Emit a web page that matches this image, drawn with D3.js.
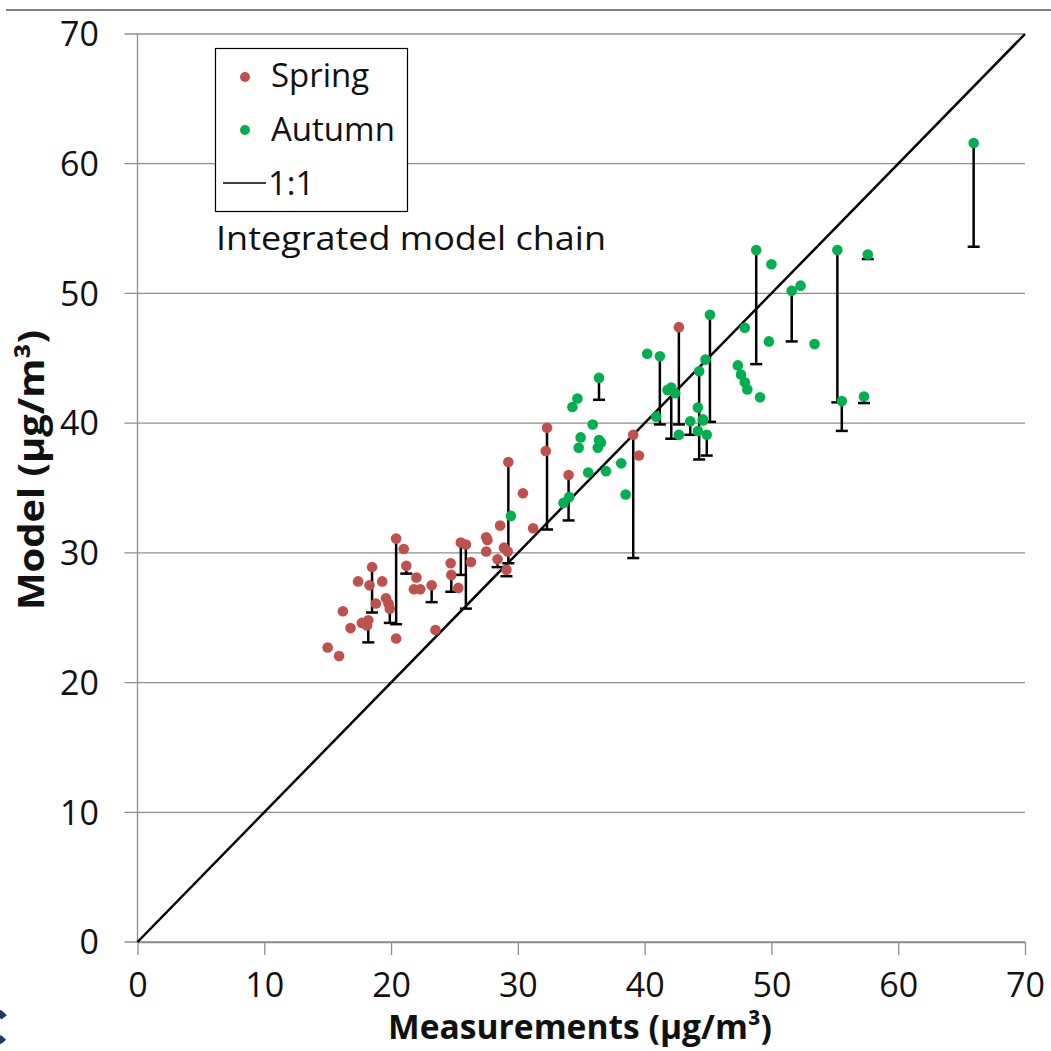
<!DOCTYPE html>
<html>
<head>
<meta charset="utf-8">
<script src="https://cdn.jsdelivr.net/npm/d3@7"></script>
<style>
  html, body { margin: 0; padding: 0; background: #fff; }
  svg { display: block; }
</style>
</head>
<body>
<div id="chart"></div>
<script>
// Scatter: model vs measurements, spring / autumn, with error bars

const ticks = [0, 10, 20, 30, 40, 50, 60, 70];

// Spring: measurement, model, lower end of error bar (null = none)
const springMeas  = [15.0, 15.9, 16.2, 16.8, 17.4, 17.7, 18.2, 18.1, 18.3, 18.5, 18.8, 19.3, 19.6, 19.8, 19.9, 20.4, 20.4, 21.0, 21.2, 21.8, 22.0, 22.3, 23.2, 23.5, 24.7, 24.75, 25.3, 25.5, 25.9, 26.3, 27.5, 27.6, 27.5, 28.4, 28.6, 28.9, 29.2, 29.1, 29.25, 30.4, 31.2, 32.3, 32.2, 34.0, 39.1, 39.55, 42.7];
const springModel = [22.7, 22.05, 25.5, 24.2, 27.8, 24.6, 24.8, 24.4, 27.5, 28.9, 26.1, 27.8, 26.5, 26.1, 25.7, 31.1, 23.4, 30.3, 29.0, 27.2, 28.1, 27.2, 27.5, 24.05, 29.2, 28.3, 27.3, 30.8, 30.65, 29.3, 31.2, 31.0, 30.1, 29.5, 32.1, 30.4, 30.1, 28.7, 37.0, 34.6, 31.9, 39.65, 37.85, 36.0, 39.1, 37.5, 47.4];
const springLow   = [null, null, null, null, null, null, 23.1, null, null, 25.4, null, null, null, null, 24.6, 24.5, null, null, 28.4, null, null, null, 26.2, null, null, 27.0, null, 28.3, 25.7, null, null, null, null, 28.9, null, null, null, 28.2, 29.2, null, null, 31.8, null, 32.5, 29.6, null, 39.9];

// Autumn
const autumnMeas  = [29.45, 33.6, 34.05, 34.3, 34.7, 34.8, 34.95, 35.55, 35.9, 36.3, 36.4, 36.55, 36.4, 36.95, 38.15, 38.5, 40.2, 40.9, 41.2, 41.8, 42.1, 42.4, 42.7, 43.6, 44.2, 44.2, 44.3, 44.6, 44.6, 44.8, 44.9, 45.15, 47.35, 47.6, 47.9, 47.9, 48.1, 48.8, 49.1, 49.8, 50.0, 51.6, 52.3, 53.4, 55.2, 55.55, 57.3, 57.6, 65.95];
const autumnModel = [32.85, 33.85, 34.3, 41.25, 41.9, 38.1, 38.9, 36.2, 39.9, 38.1, 38.7, 38.5, 43.5, 36.3, 36.9, 34.5, 45.35, 40.5, 45.15, 42.55, 42.75, 42.3, 39.1, 40.15, 41.2, 39.4, 44.0, 40.2, 40.3, 44.9, 39.1, 48.35, 44.45, 43.75, 47.35, 43.15, 42.6, 53.35, 42.0, 46.3, 52.25, 50.2, 50.6, 46.1, 53.35, 41.7, 42.05, 53.0, 61.6];
const autumnLow   = [null, null, null, null, null, null, null, null, null, null, null, null, 41.8, null, null, null, null, null, 39.9, null, 38.8, null, null, 39.1, null, null, 37.2, null, null, null, 37.5, 40.1, null, null, null, null, null, 44.55, null, null, null, 46.3, null, null, 41.6, 39.4, 41.55, 52.65, 53.6];

const W = 1051, H = 1051;
const font = '"Open Sans", Lato, sans-serif';
const gridColor = '#8c8c8c';
const springColor = '#c0504d';
const autumnColor = '#00b050';

const svg = d3.select('#chart').append('svg')
  .attr('width', W)
  .attr('height', H);

const x = d3.scaleLinear().domain([0, 70]).range([137.5, 1025]);
const y = d3.scaleLinear().domain([0, 70]).range([942, 34]);

// slide border line at top
svg.append('line')
  .attr('x1', 6).attr('x2', W)
  .attr('y1', 10).attr('y2', 10)
  .attr('stroke', '#7f7f7f').attr('stroke-width', 2);

// partial logo glyph bottom-left
svg.append('path')
  .attr('d', d3.arc()({ innerRadius: 12, outerRadius: 19, startAngle: 2.3, endAngle: 2 * Math.PI + 0.9 }))
  .attr('transform', 'translate(-8,1027)')
  .attr('fill', '#1f3864');

// horizontal gridlines
svg.append('g')
  .selectAll('line')
  .data(ticks)
  .join('line')
  .attr('x1', x(0) - 13)
  .attr('x2', x(70))
  .attr('y1', d => y(d))
  .attr('y2', d => y(d))
  .attr('stroke', gridColor)
  .attr('stroke-width', 1.3);

// left axis line
svg.append('line')
  .attr('x1', x(0)).attr('x2', x(0))
  .attr('y1', y(70)).attr('y2', y(0))
  .attr('stroke', gridColor).attr('stroke-width', 1.3);

// bottom axis with outside ticks
const xAxis = svg.append('g')
  .attr('transform', `translate(0,${y(0)})`)
  .call(d3.axisBottom(x).tickValues(ticks).tickSize(13).tickSizeOuter(0).tickPadding(18));
xAxis.select('.domain').attr('stroke', gridColor).attr('stroke-width', 1.3);
xAxis.selectAll('.tick line').attr('stroke', gridColor).attr('stroke-width', 1.3);
xAxis.selectAll('.tick text')
  .attr('font-family', font)
  .attr('font-size', 34)
  .attr('fill', '#111');

// left tick labels
svg.append('g')
  .selectAll('text')
  .data(ticks)
  .join('text')
  .attr('x', 99)
  .attr('y', d => y(d))
  .attr('dy', '0.36em')
  .attr('text-anchor', 'end')
  .attr('font-family', font)
  .attr('font-size', 34)
  .attr('fill', '#111')
  .text(d => d);

// 1:1 line
svg.append('line')
  .attr('x1', x(0)).attr('y1', y(0))
  .attr('x2', x(70)).attr('y2', y(70))
  .attr('stroke', '#000').attr('stroke-width', 2.5);

function series(meas, model, low) {
  const pts = meas.map((m, i) => ({ m, v: model[i], low: low[i] }));
  const bars = pts.filter(d => d.low !== null);
  const g = svg.append('g');

  g.selectAll('line.bar')
    .data(bars)
    .join('line')
    .attr('class', 'bar')
    .attr('x1', d => x(d.m)).attr('x2', d => x(d.m))
    .attr('y1', d => y(d.v)).attr('y2', d => y(d.low))
    .attr('stroke', '#000').attr('stroke-width', 2.5);

  g.selectAll('line.cap')
    .data(bars)
    .join('line')
    .attr('class', 'cap')
    .attr('x1', d => x(d.m) - 6).attr('x2', d => x(d.m) + 6)
    .attr('y1', d => y(d.low)).attr('y2', d => y(d.low))
    .attr('stroke', '#000').attr('stroke-width', 2.5);

  return g;
}

const springG = series(springMeas, springModel, springLow);
const autumnG = series(autumnMeas, autumnModel, autumnLow);

function dots(g, meas, model, color) {
  g.selectAll('circle')
    .data(meas.map((m, i) => [m, model[i]]))
    .join('circle')
    .attr('cx', d => x(d[0]))
    .attr('cy', d => y(d[1]))
    .attr('r', 5.3)
    .attr('fill', color);
}
dots(springG, springMeas, springModel, springColor);
dots(autumnG, autumnMeas, autumnModel, autumnColor);

// Legend
const leg = svg.append('g');
leg.append('rect')
  .attr('x', 215.5).attr('y', 48.5)
  .attr('width', 192).attr('height', 163)
  .attr('fill', '#fff').attr('stroke', '#000').attr('stroke-width', 1.2);
leg.append('circle').attr('cx', 245).attr('cy', 77).attr('r', 5).attr('fill', springColor);
leg.append('circle').attr('cx', 245).attr('cy', 130).attr('r', 5).attr('fill', autumnColor);
leg.append('line')
  .attr('x1', 223).attr('x2', 266)
  .attr('y1', 183).attr('y2', 183)
  .attr('stroke', '#000').attr('stroke-width', 1.5);
const legText = [['Spring', 271, 87], ['Autumn', 271, 141], ['1:1', 268, 195]];
leg.selectAll('text')
  .data(legText)
  .join('text')
  .attr('x', d => d[1])
  .attr('y', d => d[2])
  .attr('font-family', font)
  .attr('font-size', 33)
  .attr('fill', '#111')
  .text(d => d[0]);

svg.append('text')
  .attr('x', 216).attr('y', 250)
  .attr('font-family', font)
  .attr('font-size', 33)
  .attr('textLength', 390)
  .attr('lengthAdjust', 'spacingAndGlyphs')
  .attr('fill', '#111')
  .text('Integrated model chain');

// Axis titles
svg.append('text')
  .attr('x', 388).attr('y', 1039)
  .attr('font-family', font)
  .attr('font-weight', 'bold')
  .attr('font-size', 34)
  .attr('textLength', 384)
  .attr('lengthAdjust', 'spacingAndGlyphs')
  .attr('fill', '#111')
  .text('Measurements (µg/m³)');

svg.append('text')
  .attr('transform', 'translate(44,610) rotate(-90)')
  .attr('font-family', font)
  .attr('font-weight', 'bold')
  .attr('font-size', 35)
  .attr('textLength', 280)
  .attr('lengthAdjust', 'spacingAndGlyphs')
  .attr('fill', '#111')
  .text('Model (µg/m³)');
</script>
</body>
</html>
